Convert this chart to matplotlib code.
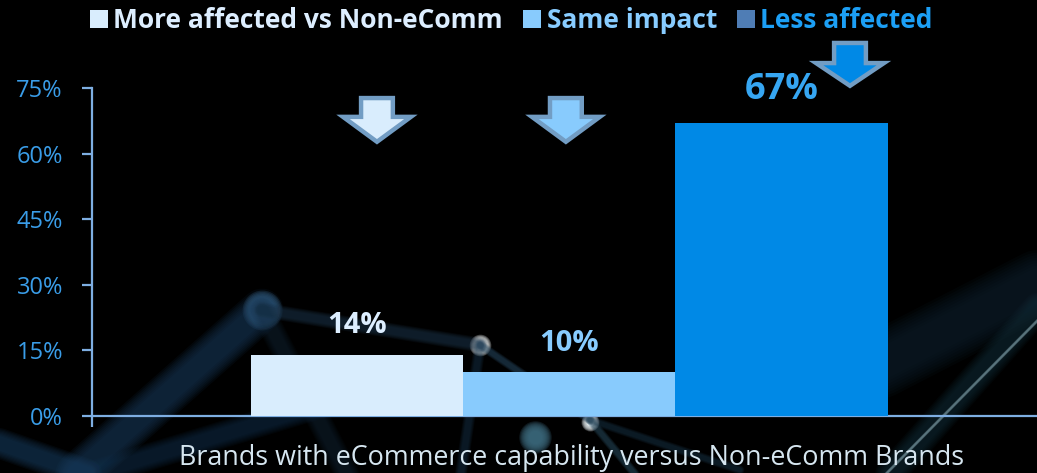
import matplotlib
matplotlib.use("Agg")

import matplotlib.pyplot as plt
from matplotlib.patches import Patch, Polygon
from matplotlib.ticker import FuncFormatter

categories = ["More affected vs Non-eComm", "Same impact", "Less affected"]
values = [14, 10, 67]
bar_colors = ["#D9EDFD", "#88CBFD", "#0089E6"]
label_colors = ["#DDEEFF", "#88CCFF", "#36A6F2"]
legend_square_colors = ["#D9EDFD", "#88CBFD", "#4F7DB5"]
legend_text_colors = ["#DDEEFF", "#88CCFF", "#1C9FF5"]
xlabel = "Brands with eCommerce capability versus Non-eComm Brands"
y_ticks = [0, 15, 30, 45, 60, 75]

FONT = "Open Sans"
AXIS_COLOR = "#7EAEE2"
TICK_COLOR = "#3A9DE8"

# decorative "network" streaks and glowing nodes behind the chart (pixel space)
streaks = [
    ((262, 310), (70, 480), 14, "#1b3d5e", 0.55),
    ((-10, 440), (90, 475), 10, "#1b4266", 0.5),
    ((90, 475), (320, 405), 9, "#163450", 0.45),
    ((262, 310), (480, 345), 5, "#1c3348", 0.55),
    ((262, 310), (350, 480), 8, "#142a3e", 0.4),
    ((480, 345), (590, 420), 3, "#2a4a62", 0.5),
    ((480, 345), (460, 480), 4, "#1c3a52", 0.4),
    ((590, 420), (640, 480), 3, "#2a4c60", 0.5),
    ((590, 420), (740, 470), 3, "#1f3d52", 0.4),
    ((1045, 280), (880, 365), 22, "#10222f", 0.6),
    ((1045, 300), (885, 480), 10, "#16333f", 0.45),
    ((1040, 318), (880, 480), 1.1, "#a6c9d4", 0.45),
]
nodes = [
    (262, 310, 11, "#3e6b8f", 0.0),
    (480, 345, 6, "#f4f8fa", 1.0),
    (590, 422, 5, "#e6eef2", 1.0),
    (535, 437, 9, "#3d6c80", 0.0),
]

fig = plt.figure(figsize=(10.37, 4.73), dpi=100, facecolor="black")

bg = fig.add_axes([0, 0, 1, 1], zorder=0)
bg.set_xlim(0, 1037)
bg.set_ylim(473, 0)
bg.axis("off")
bg.set_facecolor("black")
for (x0, y0), (x1, y1), w, c, a in streaks:
    for i in range(8):
        k = 2.2 - i * 0.17
        bg.plot([x0, x1], [y0, y1], color=c, lw=w * k, alpha=a / 5,
                solid_capstyle="round")
for x, y, r, c, core in nodes:
    for i in range(10):
        k = 2.6 - i * 0.17
        bg.scatter([x], [y], s=(r * k) ** 2, color=c, alpha=0.22, lw=0)
    if core:
        bg.scatter([x], [y], s=(r * 1.1) ** 2, color=c, alpha=core, lw=0)

ax = fig.add_axes([92 / 1037, 57 / 473, 1 - 92 / 1037, (416 - 88) / 473], zorder=1)
ax.set_facecolor("none")

positions = [-1, 0, 1]
bars = ax.bar(positions, values, width=1.0, color=bar_colors, zorder=3)

ax.set_xlim(-2.252, 2.205)
ax.set_ylim(0, 75)
ax.set_yticks(y_ticks)
ax.yaxis.set_major_formatter(FuncFormatter(lambda v, _: f"{v:.0f}%"))
ax.tick_params(axis="y", colors=AXIS_COLOR, labelcolor=TICK_COLOR, length=7,
               width=1.6, pad=14, labelsize=17)
for lab in ax.get_yticklabels():
    lab.set_fontfamily(FONT)
ax.set_xticks([-2.252])
ax.set_xticklabels([""])
ax.tick_params(axis="x", colors=AXIS_COLOR, length=8, width=1.6, direction="out")

for side in ["top", "right"]:
    ax.spines[side].set_visible(False)
for side in ["left", "bottom"]:
    ax.spines[side].set_color(AXIS_COLOR)
    ax.spines[side].set_linewidth(1.6)

ax.set_xlabel(xlabel, fontfamily=FONT, fontsize=19.4, color="#D6E6F0")
ax.xaxis.set_label_coords(0.507, -0.085)

# value labels above bars
label_sizes = [21, 21, 26]
label_offsets = [21, 21, 24]
for pos, v, c, s, off in zip(positions, values, label_colors, label_sizes, label_offsets):
    ax.annotate(f"{v}%", (pos, v), xytext=(0, off), textcoords="offset points",
                ha="center", va="center", fontfamily=FONT, fontweight="bold",
                fontsize=s, color=c, zorder=4)

# down arrows: (x centre, top, head start, tip) in data units
arrows = [(-0.908, 72.7, 68.4, 62.7), (-0.017, 72.7, 68.4, 62.7), (1.323, 85.3, 80.7, 75.5)]
shaft_half, head_half = 0.075, 0.16
for (xc, top, neck, tip), fill in zip(arrows, bar_colors):
    pts = [(xc - shaft_half, top), (xc + shaft_half, top), (xc + shaft_half, neck),
           (xc + head_half, neck), (xc, tip), (xc - head_half, neck),
           (xc - shaft_half, neck)]
    ax.add_patch(Polygon(pts, closed=True, facecolor=fill, edgecolor="#729DC4",
                         lw=3.2, joinstyle="miter", clip_on=False, zorder=5))

handles = [Patch(facecolor=c, edgecolor="none") for c in legend_square_colors]
leg = fig.legend(handles, categories, loc="upper center", bbox_to_anchor=(0.493, 1.035),
                 ncol=3, frameon=False, handlelength=0.7, handleheight=0.7,
                 handletextpad=0.2, columnspacing=0.75, labelcolor=legend_text_colors,
                 prop={"family": FONT, "weight": "bold", "size": 19})

fig.savefig("out.png", dpi=100, facecolor="black")
